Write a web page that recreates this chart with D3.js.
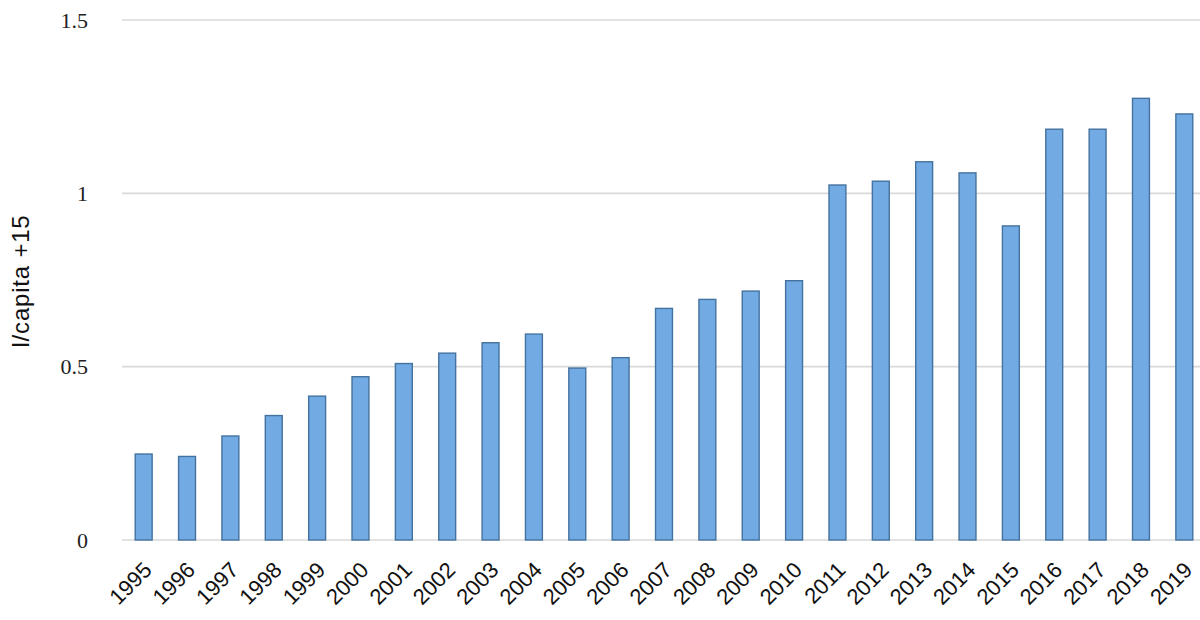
<!DOCTYPE html>
<html><head><meta charset="utf-8">
<script src="https://cdn.jsdelivr.net/npm/d3@7/dist/d3.min.js"></script>
<style>body{margin:0;background:#fff}svg{display:block}</style>
</head><body>
<svg id="c" width="1200" height="620"></svg>
<script>
const years = ["1995","1996","1997","1998","1999","2000","2001","2002","2003","2004","2005","2006","2007","2008","2009","2010","2011","2012","2013","2014","2015","2016","2017","2018","2019"];
const values = [0.248,0.241,0.300,0.359,0.415,0.471,0.509,0.539,0.569,0.594,0.496,0.526,0.668,0.694,0.718,0.748,1.024,1.035,1.091,1.059,0.906,1.185,1.185,1.274,1.229];
const yTicks = [0,0.5,1,1.5];
const yTickLabels = ["0","0.5","1","1.5"];
const yTitle = "l/capita +15";

const svg = d3.select("#c");
const x = d3.scaleBand().domain(years).range([122,1206]).paddingInner(0.61).paddingOuter(0.305);
const y = d3.scaleLinear().domain([0,1.5]).range([540,20]);

svg.append("g").selectAll("line").data(yTicks).join("line")
  .attr("x1",122).attr("x2",1200)
  .attr("y1",d=>y(d)).attr("y2",d=>y(d))
  .attr("stroke","#d9d9d9").attr("stroke-width",1.6);

svg.append("g").selectAll("rect").data(values).join("rect")
  .attr("x",(d,i)=>x(years[i]))
  .attr("width",x.bandwidth())
  .attr("y",d=>y(d))
  .attr("height",d=>y(0)-y(d))
  .attr("fill","#72abe4").attr("stroke","#44729f").attr("stroke-width",1.4);

svg.append("g").selectAll("text").data(yTicks).join("text")
  .attr("x",88).attr("y",d=>y(d)).attr("dy","0.35em")
  .attr("text-anchor","end")
  .attr("font-family","Liberation Serif, serif").attr("font-size",22).attr("fill","#222")
  .text((d,i)=>yTickLabels[i]);

svg.append("g").selectAll("text").data(years).join("text")
  .attr("transform",d=>`translate(${x(d)+x.bandwidth()/2+4},${566}) rotate(-45)`)
  .attr("text-anchor","end").attr("dy","0.35em")
  .attr("font-family","Liberation Sans, sans-serif").attr("font-size",22).attr("fill","#111")
  .text(d=>d);

svg.append("text")
  .attr("transform","translate(21,281) rotate(-90)")
  .attr("text-anchor","middle").attr("dy","0.35em")
  .attr("font-family","Liberation Sans, sans-serif").attr("font-size",24).attr("letter-spacing",0.8).attr("fill","#111")
  .text(yTitle);
</script>
</body></html>
